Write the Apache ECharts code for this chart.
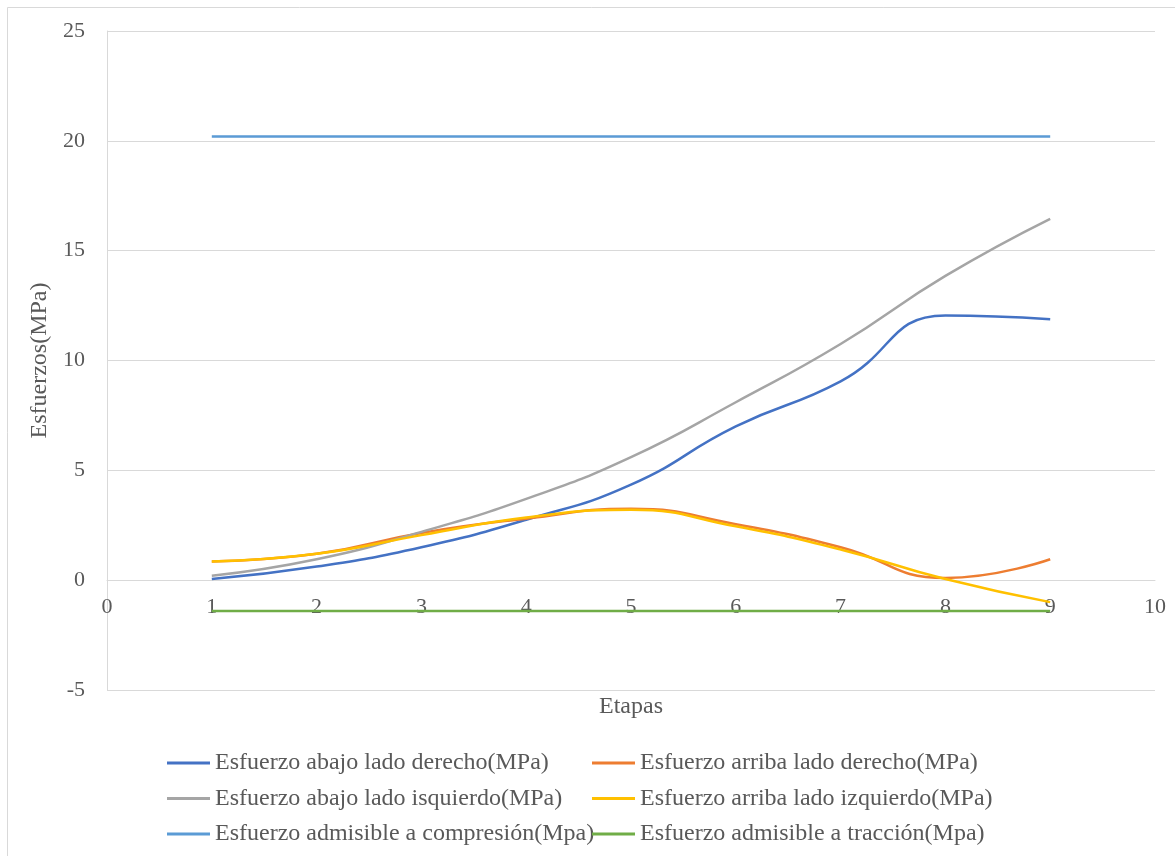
<!DOCTYPE html>
<html>
<head>
<meta charset="utf-8">
<script src="https://cdn.jsdelivr.net/npm/echarts@6/dist/echarts.min.js"></script>
<style>
  html, body { margin: 0; padding: 0; background: #ffffff; }
  #chart { width: 1175px; height: 856px; }
</style>
</head>
<body>
<div id="chart"></div>
<script>
// Etapas (stages) on the horizontal axis
const etapas = [1, 2, 3, 4, 5, 6, 7, 8, 9];

// Stresses per stage, MPa
const abajoDerecho   = [0.05, 0.62, 1.50, 2.75, 4.35, 7.00, 9.05, 12.05, 11.88];
const arribaDerecho  = [0.85, 1.20, 2.15, 2.80, 3.25, 2.55, 1.50, 0.10, 0.95];
const abajoIzquierdo = [0.20, 0.95, 2.20, 3.70, 5.60, 8.10, 10.75, 13.85, 16.45];
const arribaIzquierdo= [0.85, 1.20, 2.05, 2.85, 3.20, 2.45, 1.40, 0.05, -1.00];
const admCompresion  = [20.2, 20.2, 20.2, 20.2, 20.2, 20.2, 20.2, 20.2, 20.2];
const admTraccion    = [-1.4, -1.4, -1.4, -1.4, -1.4, -1.4, -1.4, -1.4, -1.4];

const seriesNames = [
  'Esfuerzo abajo lado derecho(MPa)',
  'Esfuerzo arriba lado derecho(MPa)',
  'Esfuerzo abajo lado isquierdo(MPa)',
  'Esfuerzo arriba lado izquierdo(MPa)',
  'Esfuerzo admisible a compresión(Mpa)',
  'Esfuerzo admisible a tracción(Mpa)'
];
const seriesValues = [abajoDerecho, arribaDerecho, abajoIzquierdo, arribaIzquierdo, admCompresion, admTraccion];
const seriesColors = ['#4472C4', '#ED7D31', '#A5A5A5', '#FFC000', '#5B9BD5', '#70AD47'];

const FONT = '"Liberation Serif", "Times New Roman", serif';
const TEXT = '#595959';
const GRID = '#d9d9d9';

// Value range of the vertical axis and plot geometry
const Y_MIN = -5, Y_MAX = 25;
const GRID_TOP = 31, GRID_BOTTOM = 166, CHART_H = 856;
const plotH = CHART_H - GRID_TOP - GRID_BOTTOM;
// The horizontal axis sits on the zero line: lift it from the plot bottom by the span below zero
const xAxisLift = -plotH * (0 - Y_MIN) / (Y_MAX - Y_MIN);

const chart = echarts.init(document.getElementById('chart'), null, { renderer: 'canvas' });

const legendCommon = {
  orient: 'vertical',
  icon: 'rect',
  itemWidth: 43,
  itemHeight: 3,
  itemGap: 11.5,
  padding: 0,
  textStyle: { fontFamily: FONT, fontSize: 24, color: TEXT }
};

chart.setOption({
  backgroundColor: '#ffffff',
  animation: false,
  graphic: [{
    type: 'rect',
    shape: { x: 7.5, y: 7.5, width: 1180, height: 870 },
    style: { fill: 'none', stroke: '#d9d9d9', lineWidth: 1 },
    silent: true
  }],
  grid: { left: 107, top: GRID_TOP, right: 20, bottom: GRID_BOTTOM },
  legend: [
    Object.assign({ left: 167, top: 751, data: [seriesNames[0], seriesNames[2], seriesNames[4]] }, legendCommon),
    Object.assign({ left: 592, top: 751, data: [seriesNames[1], seriesNames[3], seriesNames[5]] }, legendCommon)
  ],
  xAxis: {
    type: 'value',
    min: 0, max: 10, interval: 1,
    offset: xAxisLift,
    name: 'Etapas',
    nameLocation: 'middle',
    nameGap: 115,
    nameTextStyle: { fontFamily: FONT, fontSize: 24, color: TEXT },
    axisLine: { onZero: false, lineStyle: { color: GRID, width: 1 } },
    axisTick: { show: false },
    splitLine: { show: false },
    axisLabel: { fontFamily: FONT, fontSize: 22, color: TEXT, margin: 16 }
  },
  yAxis: {
    type: 'value',
    min: Y_MIN, max: Y_MAX, interval: 5,
    name: 'Esfuerzos(MPa)',
    nameLocation: 'middle',
    nameGap: 45,
    nameTextStyle: { fontFamily: FONT, fontSize: 24, color: TEXT },
    axisLine: { show: true, onZero: false, lineStyle: { color: GRID, width: 1 } },
    axisTick: { show: false },
    splitLine: { show: true, lineStyle: { color: GRID, width: 1 } },
    axisLabel: { fontFamily: FONT, fontSize: 22, color: TEXT, margin: 22 }
  },
  series: seriesNames.map((name, i) => ({
    name: name,
    type: 'line',
    data: etapas.map((x, j) => [x, seriesValues[i][j]]),
    smooth: 0.5,
    showSymbol: false,
    symbol: 'none',
    lineStyle: { color: seriesColors[i], width: 2.5 },
    itemStyle: { color: seriesColors[i] },
    z: 2 + i
  }))
});
</script>
</body>
</html>
